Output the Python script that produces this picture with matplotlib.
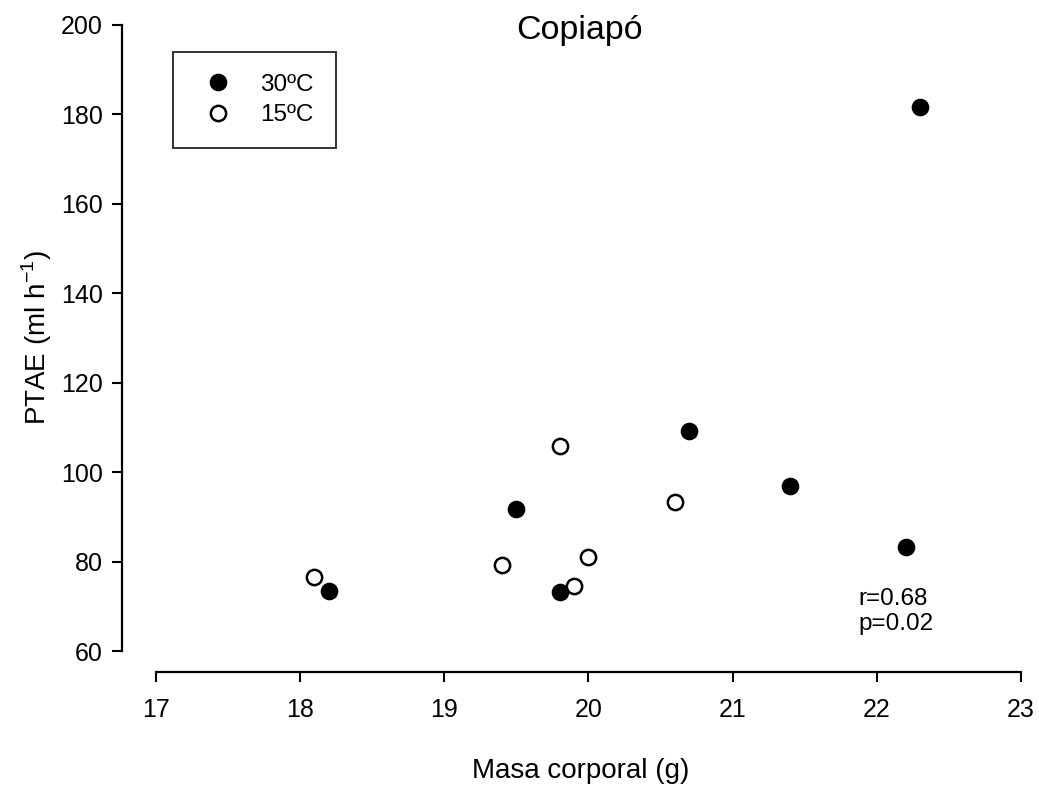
import matplotlib
matplotlib.use('Agg')
import matplotlib.pyplot as plt

plt.rcParams['font.family'] = ['Liberation Sans', 'DejaVu Sans']

# data
mass_30 = [18.2, 19.5, 19.8, 20.7, 21.4, 22.2, 22.3]
ptae_30 = [73.5, 91.7, 73.2, 109.1, 96.8, 83.3, 181.6]
mass_15 = [18.1, 19.4, 19.8, 19.9, 20.0, 20.6]
ptae_15 = [76.5, 79.3, 105.8, 74.6, 80.9, 93.2]

xticks = [17, 18, 19, 20, 21, 22, 23]
yticks = [60, 80, 100, 120, 140, 160, 180, 200]

fig = plt.figure(figsize=(10.39, 7.94), dpi=100)
ax = fig.add_axes([0.1499, 0.1801, 0.8328, 0.789])

ax.plot(mass_30, ptae_30, 'o', ms=11.5, mfc='black', mec='black', mew=1.2, label='30ºC', clip_on=False)
ax.plot(mass_15, ptae_15, 'o', ms=11, mfc='white', mec='black', mew=1.8, label='15ºC', clip_on=False)

ax.set_xlim(17, 23)
ax.set_ylim(60, 200)
ax.set_xticks(xticks)
ax.set_yticks(yticks)

for s in ['top', 'right']:
    ax.spines[s].set_visible(False)
ax.spines['left'].set_position(('outward', 24))
ax.spines['bottom'].set_position(('outward', 15))
ax.spines['left'].set_linewidth(1.6)
ax.spines['bottom'].set_linewidth(1.6)
ax.tick_params(direction='out', length=7, width=1.5, labelsize=18, pad=7)
ax.tick_params(axis='x', pad=12)

ax.set_xlabel('Masa corporal (g)', fontsize=20, labelpad=26, x=0.4915)
ax.set_ylabel('PTAE (ml h$^{\\mathregular{-1}}$)', fontsize=20, labelpad=5)
fig.text(580 / 1039, 1 - 31 / 794, 'Copiapó', fontsize=24.5, ha='center', va='center')

leg = ax.legend(loc='upper left', bbox_to_anchor=(0.0205, 0.956), numpoints=1,
                fontsize=17.5, frameon=True, fancybox=False, edgecolor='black',
                handlelength=1.9, handletextpad=0.78, borderpad=0.9, borderaxespad=0,
                labelspacing=0.33)
leg.get_frame().set_linewidth(1.4)

ax.text(21.87, 68.8, 'r=0.68\np=0.02', fontsize=17.5, ha='left', va='center', linespacing=1.15)

fig.savefig('out.png', dpi=100)
